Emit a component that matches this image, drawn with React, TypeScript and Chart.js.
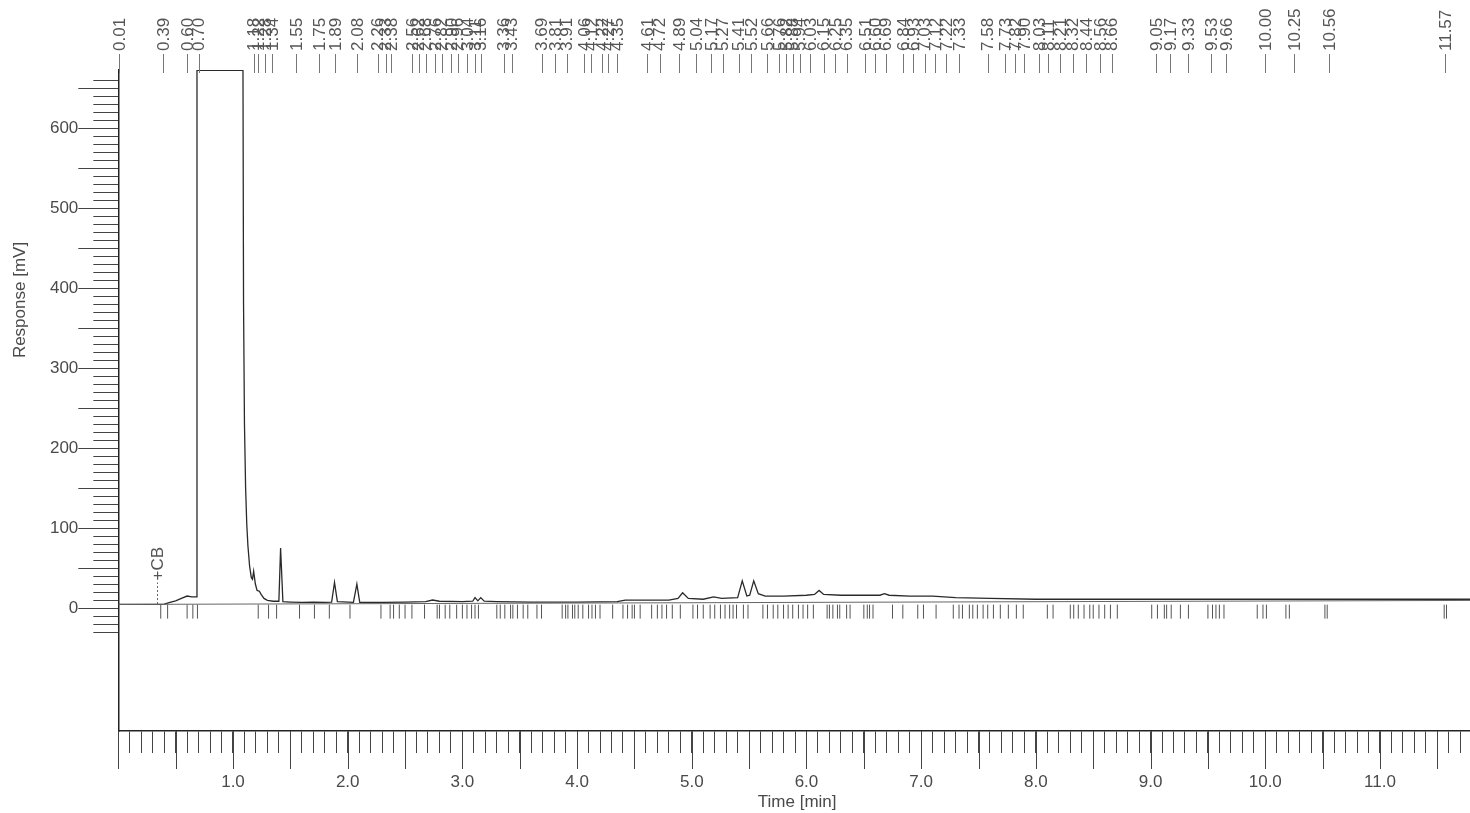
import React, { useEffect, useRef } from 'react';
import { Chart, registerables } from 'chart.js';

Chart.register(...registerables);

// ---- data ----
const signalTime = [
  0.0, 0.36, 0.4, 0.45, 0.5, 0.55, 0.6, 0.64, 0.68, 0.686, 1.087, 1.092, 1.1, 1.11, 1.12, 1.13, 1.145, 1.16, 1.17,
  1.18, 1.195, 1.21, 1.23, 1.245, 1.27, 1.3, 1.35, 1.4, 1.415, 1.435, 1.5, 1.6, 1.7, 1.8, 1.86, 1.885, 1.91, 2.05,
  2.08, 2.105, 2.3, 2.5, 2.68, 2.74, 2.8, 3.0, 3.09, 3.11, 3.135, 3.16, 3.19, 3.3, 3.6, 4.0, 4.35, 4.42, 4.8, 4.88,
  4.92, 4.97, 5.1, 5.19, 5.26, 5.4, 5.44, 5.48, 5.505, 5.54, 5.58, 5.64, 5.8, 6.0, 6.07, 6.11, 6.15, 6.3, 6.5, 6.64,
  6.68, 6.72, 6.9, 7.1, 7.3, 7.6, 8.0, 9.0, 10.0, 11.785,
];
const signalMv = [
  4.5, 4.5, 5, 7, 9, 12, 15, 14, 14, 672, 672, 380, 230, 150, 105, 78, 52, 38, 36,
  46, 30, 22, 21, 17, 12, 9.5, 8.5, 8.5, 75, 8, 7.5, 7, 7.5, 7, 7.5, 32, 8, 7,
  30, 7, 7, 7.5, 8, 10, 8.5, 8, 8.5, 13, 9, 13, 8.5, 8, 7.5, 7.5, 8, 10, 10, 12,
  19, 12, 11, 14, 12, 13, 34, 15, 16, 34, 18, 15, 15, 16, 17, 22, 17, 16, 16, 16,
  18, 16, 15, 15, 13, 12, 11, 11, 11, 11,
];
const baselineTime = [0, 11.785];
const baselineMv = [4.5, 9.5];

const peakLabelTimes = [
  0.01, 0.39, 0.6, 0.7, 1.18, 1.22, 1.28, 1.34, 1.55, 1.75, 1.89, 2.08, 2.26, 2.33, 2.38, 2.56, 2.62, 2.68, 2.76,
  2.82, 2.9, 2.96, 3.04, 3.11, 3.16, 3.36, 3.43, 3.69, 3.81, 3.91, 4.06, 4.12, 4.22, 4.27, 4.35, 4.61, 4.72, 4.89,
  5.04, 5.17, 5.27, 5.41, 5.52, 5.66, 5.76, 5.82, 5.88, 5.94, 6.03, 6.15, 6.25, 6.35, 6.51, 6.6, 6.69, 6.84, 6.93,
  7.03, 7.12, 7.22, 7.33, 7.58, 7.73, 7.82, 7.9, 8.03, 8.11, 8.21, 8.32, 8.44, 8.56, 8.66, 9.05, 9.17, 9.33, 9.53,
  9.66, 10.0, 10.25, 10.56, 11.57,
];

const eventMarkTimes = [
  0.37, 0.43, 0.6, 0.65, 0.69, 1.22, 1.31, 1.38, 1.58, 1.71, 1.84, 2.02, 2.29, 2.37, 2.4, 2.45, 2.5, 2.56, 2.67,
  2.78, 2.8, 2.85, 2.89, 2.95, 3.0, 3.04, 3.08, 3.11, 3.14, 3.3, 3.33, 3.37, 3.42, 3.44, 3.48, 3.53, 3.57, 3.65,
  3.69, 3.87, 3.9, 3.92, 3.96, 3.98, 4.01, 4.05, 4.1, 4.13, 4.16, 4.2, 4.31, 4.4, 4.44, 4.48, 4.5, 4.55, 4.65, 4.7,
  4.74, 4.78, 4.83, 4.9, 5.01, 5.05, 5.1, 5.16, 5.2, 5.25, 5.29, 5.33, 5.36, 5.39, 5.45, 5.49, 5.62, 5.66, 5.71,
  5.75, 5.8, 5.84, 5.88, 5.93, 5.97, 6.01, 6.06, 6.18, 6.2, 6.23, 6.27, 6.29, 6.35, 6.38, 6.5, 6.53, 6.55, 6.58,
  6.75, 6.84, 6.97, 7.02, 7.13, 7.28, 7.33, 7.36, 7.42, 7.45, 7.49, 7.54, 7.58, 7.63, 7.69, 7.76, 7.83, 7.89,
  8.1, 8.15, 8.3, 8.33, 8.37, 8.42, 8.47, 8.5, 8.55, 8.6, 8.65, 8.71, 9.01, 9.06, 9.12, 9.14, 9.18, 9.26, 9.33,
  9.5, 9.54, 9.57, 9.6, 9.64, 9.93, 9.98, 10.01, 10.18, 10.21, 10.52, 10.54, 11.56, 11.58,
];
const EVENT_MARK_LEVEL = -4.5;

const cbTime = 0.34;
const cbLabel = '+CB';

const xTickLabels = ['1.0', '2.0', '3.0', '4.0', '5.0', '6.0', '7.0', '8.0', '9.0', '10.0', '11.0'];
const yTickLabels = ['0', '100', '200', '300', '400', '500', '600'];

const X_MIN = 0;
const X_MAX = 11.785;
const Y_MIN = -153.7;
const Y_MAX = 672.5;
const Y_TICK_FIRST = -30;
const Y_TICK_LAST = 660;

const xTitle = 'Time [min]';
const yTitle = 'Response [mV]';

const FONT = '"Liberation Sans", Arial, Helvetica, sans-serif';
const TEXT = '#4a4a4a';

const decorPlugin = {
  id: 'decor',
  afterDraw(chart: any) {
    const ctx = chart.ctx;
    const { left, right, bottom } = chart.chartArea;
    const xs = chart.scales.x;
    const ys = chart.scales.y;
    ctx.save();

    // longer y ticks at every 50 mV
    ctx.strokeStyle = '#444';
    ctx.lineWidth = 1;
    ctx.beginPath();
    for (let k = Math.ceil(Y_TICK_FIRST / 50); k * 50 <= Y_TICK_LAST; k++) {
      const py = Math.round(ys.getPixelForValue(k * 50)) + 0.5;
      ctx.moveTo(left - 40, py);
      ctx.lineTo(left, py);
    }
    // longer x ticks at every 0.5 min
    for (let k = 0; k * 0.5 <= X_MAX; k++) {
      const px = Math.round(xs.getPixelForValue(k * 0.5)) + 0.5;
      ctx.moveTo(px, bottom);
      ctx.lineTo(px, bottom + 38);
    }
    ctx.stroke();

    // peak retention time labels on top
    ctx.font = `17px ${FONT}`;
    ctx.fillStyle = '#555';
    ctx.strokeStyle = '#777';
    ctx.lineWidth = 1;
    ctx.textAlign = 'left';
    ctx.textBaseline = 'middle';
    for (const t of peakLabelTimes) {
      const px = xs.getPixelForValue(t);
      ctx.beginPath();
      ctx.moveTo(Math.round(px) + 0.5, 73);
      ctx.lineTo(Math.round(px) + 0.5, 54);
      ctx.stroke();
      ctx.save();
      ctx.translate(px, 51);
      ctx.rotate(-Math.PI / 2);
      ctx.fillText(t.toFixed(2), 0, 1);
      ctx.restore();
    }

    // +CB annotation
    const cbx = Math.round(xs.getPixelForValue(cbTime)) + 0.5;
    const cbBase = ys.getPixelForValue(5);
    const cbTop = ys.getPixelForValue(32);
    ctx.setLineDash([2, 2]);
    ctx.strokeStyle = '#666';
    ctx.beginPath();
    ctx.moveTo(cbx, cbBase);
    ctx.lineTo(cbx, cbTop);
    ctx.stroke();
    ctx.setLineDash([]);
    ctx.save();
    ctx.translate(cbx, cbTop - 2);
    ctx.rotate(-Math.PI / 2);
    ctx.fillStyle = '#555';
    ctx.fillText(cbLabel, 0, 1);
    ctx.restore();

    // axis titles
    ctx.fillStyle = TEXT;
    ctx.font = `17px ${FONT}`;
    ctx.textAlign = 'center';
    ctx.textBaseline = 'middle';
    ctx.fillText(xTitle, (left + right) / 2 + 3, 802);
    ctx.save();
    ctx.translate(20, 300);
    ctx.rotate(-Math.PI / 2);
    ctx.fillText(yTitle, 0, 0);
    ctx.restore();

    ctx.restore();
  },
};

export default function App() {
  const canvasRef = useRef<HTMLCanvasElement | null>(null);

  useEffect(() => {
    if (!canvasRef.current) return;
    const chart = new Chart(canvasRef.current, {
      type: 'line',
      data: {
        datasets: [
          {
            label: 'baseline',
            data: baselineTime.map((t, i) => ({ x: t, y: baselineMv[i] })),
            borderColor: '#666',
            borderWidth: 1,
            pointRadius: 0,
            tension: 0,
          },
          {
            label: 'signal',
            data: signalTime.map((t, i) => ({ x: t, y: signalMv[i] })),
            borderColor: '#2a2a2a',
            borderWidth: 1.3,
            pointRadius: 0,
            tension: 0,
          },
          {
            label: 'events',
            data: eventMarkTimes.map((t) => ({ x: t, y: EVENT_MARK_LEVEL })),
            showLine: false,
            pointStyle: 'line',
            pointRotation: 90,
            pointRadius: 7,
            pointHoverRadius: 7,
            pointBorderColor: '#555',
            pointBorderWidth: 1,
            borderColor: '#555',
          },
        ],
      } as any,
      options: {
        animation: false,
        responsive: false,
        events: [],
        layout: { autoPadding: false, padding: { top: 70, left: 0, right: 0, bottom: 0 } },
        plugins: { legend: { display: false }, tooltip: { enabled: false } },
        scales: {
          x: {
            type: 'linear',
            min: X_MIN,
            max: X_MAX,
            afterFit: (s: any) => {
              s.height = 82;
              s.paddingLeft = 0;
              s.paddingRight = 0;
            },
            afterBuildTicks: (s: any) => {
              const ticks: any[] = [];
              for (let k = 0; k / 10 <= X_MAX; k++) ticks.push({ value: k / 10 });
              s.ticks = ticks;
            },
            ticks: {
              stepSize: 0.1,
              autoSkip: false,
              maxRotation: 0,
              minRotation: 0,
              padding: 19,
              color: TEXT,
              font: { family: FONT, size: 17 },
              callback: (v: any) => {
                const lbl = Number(v).toFixed(1);
                return xTickLabels.includes(lbl) ? lbl : '';
              },
            },
            grid: { drawOnChartArea: false, tickLength: 22, tickColor: '#444', tickWidth: 1 },
            border: { display: true, color: '#222', width: 1.5 },
          },
          y: {
            type: 'linear',
            min: Y_MIN,
            max: Y_MAX,
            afterFit: (s: any) => {
              s.width = 118.3;
              s.paddingTop = 0;
              s.paddingBottom = 0;
            },
            afterBuildTicks: (s: any) => {
              const ticks: any[] = [];
              for (let v = Y_TICK_FIRST; v <= Y_TICK_LAST; v += 10) ticks.push({ value: v });
              s.ticks = ticks;
            },
            ticks: {
              stepSize: 10,
              autoSkip: false,
              padding: 15,
              color: TEXT,
              font: { family: FONT, size: 17 },
              callback: (v: any) => {
                const lbl = String(Math.round(Number(v)));
                return yTickLabels.includes(lbl) ? lbl : '';
              },
            },
            grid: { drawOnChartArea: false, tickLength: 25, tickColor: '#444', tickWidth: 1 },
            border: { display: true, color: '#222', width: 1.5 },
          },
        },
      } as any,
      plugins: [decorPlugin],
    });
    return () => chart.destroy();
  }, []);

  return (
    <div style={{ position: 'absolute', left: 0, top: 0, width: 1470, height: 813, background: '#fff' }}>
      <canvas ref={canvasRef} width={1470} height={813} />
    </div>
  );
}
